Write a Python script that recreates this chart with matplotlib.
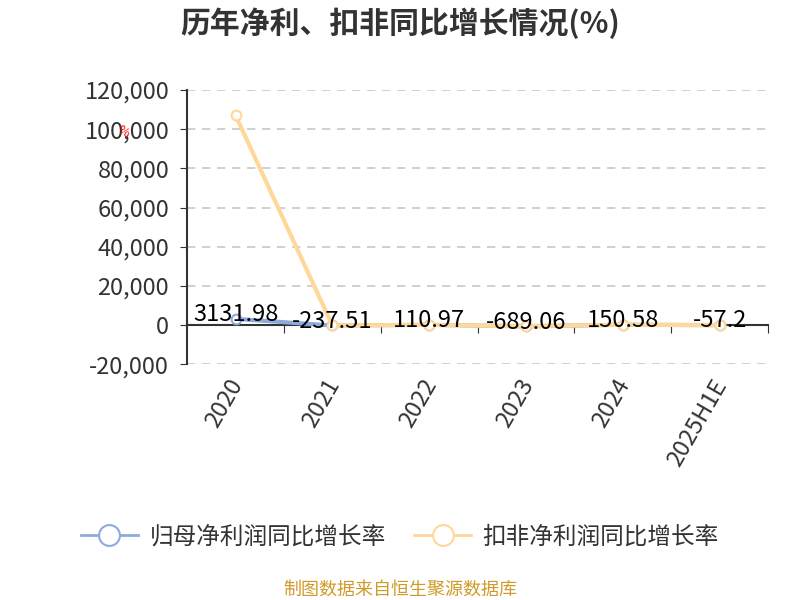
import matplotlib.pyplot as plt
import matplotlib.transforms as mtransforms
from matplotlib.lines import Line2D

plt.rcParams['font.family'] = ['Noto Sans CJK SC', 'DejaVu Sans']

years = ['2020', '2021', '2022', '2023', '2024', '2025H1E']
parent_growth = [3131.98, -237.51, 110.97, -689.06, 150.58, -57.2]
deducted_growth = [107000, -210, 95, -610, 140, -50]
yticks = [-20000, 0, 20000, 40000, 60000, 80000, 100000, 120000]

blue = '#8eaadd'
yellow = '#ffd899'

fig = plt.figure(figsize=(8, 6), dpi=100)
ax = fig.add_axes([0.234, 0.393, 0.726, 0.457])

x = list(range(len(years)))
ax.plot(x, parent_growth, color=blue, lw=3, marker='o', ms=7,
        mfc='white', mec=blue, mew=1.5, zorder=3)
ax.plot(x, deducted_growth, color=yellow, lw=3, marker='o', ms=7,
        mfc='white', mec=yellow, mew=1.5, zorder=4)

for xi, v in zip(x, parent_growth):
    ax.annotate(f'{v:g}', (xi, v), xytext=(0, 3), textcoords='offset points',
                ha='center', va='center', fontsize=17, color='black', zorder=5)

ax.set_xlim(-0.5, len(years) - 0.5)
ax.set_ylim(-20000, 120000)
ax.set_yticks(yticks)
ax.set_yticklabels([f'{t:,}' for t in yticks], fontsize=17, color='#333333')
ax.yaxis.grid(True, ls=(0, (5, 4)), color='#c8c8c8', lw=1.2)
ax.set_axisbelow(True)

for s in ['top', 'right']:
    ax.spines[s].set_visible(False)
ax.spines['left'].set_color('#333333')
ax.spines['left'].set_linewidth(1.5)
ax.spines['bottom'].set_position(('data', 0))
ax.spines['bottom'].set_color('#333333')
ax.spines['bottom'].set_linewidth(1.5)
ax.tick_params(axis='y', length=5, color='#333333', pad=8)

ax.set_xticks([i + 0.5 for i in x])
ax.set_xticklabels([])
ax.tick_params(axis='x', length=6, color='#333333', direction='out')

trans = mtransforms.blended_transform_factory(ax.transData, ax.transAxes)
for xi, lab in zip(x, years):
    ax.text(xi - 0.08, -0.04, lab, transform=trans, rotation=60, ha='right',
            va='top', fontsize=17, color='#333333', rotation_mode='anchor')

fig.text(0.5, 0.962, '历年净利、扣非同比增长情况(%)', ha='center', va='center',
         fontsize=21.5, fontweight='bold', color='#333333')
fig.text(0.154, 0.781, '%', color='red', fontsize=9, ha='center', va='center',
         rotation=-30)

handles = [
    Line2D([], [], color=blue, lw=2, marker='o', ms=15, mfc='white', mec=blue, mew=1.5),
    Line2D([], [], color=yellow, lw=2, marker='o', ms=15, mfc='white', mec=yellow, mew=1.5),
]
fig.legend(handles, ['归母净利润同比增长率', '扣非净利润同比增长率'],
           loc='center', bbox_to_anchor=(0.5, 0.105), ncol=2, frameon=False,
           fontsize=17, handlelength=2.4, handletextpad=0.5, columnspacing=1.2,
           labelcolor='#333333')

fig.text(0.5, 0.018, '制图数据来自恒生聚源数据库', ha='center', va='center',
         fontsize=13, color='#d09a2a')

fig.savefig('out.png', dpi=100)
